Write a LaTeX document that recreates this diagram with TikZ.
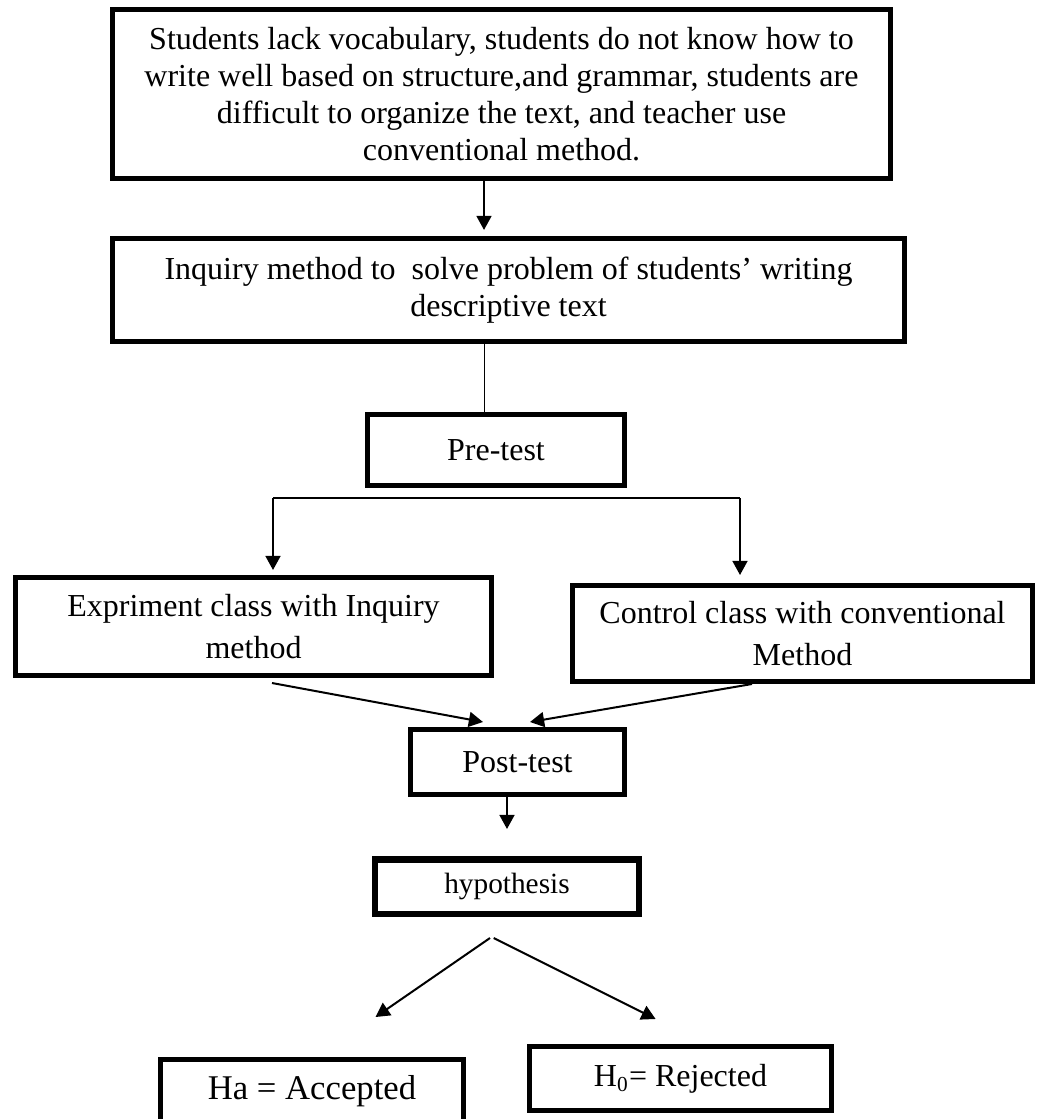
\documentclass[tikz,border=0pt]{standalone}
\usepackage{fontspec}
\setmainfont{Liberation Serif}
\usetikzlibrary{arrows.meta,calc}
\begin{document}
\begin{tikzpicture}[x=0.375pt,y=-0.375pt,
  boxnode/.style={draw,line width=1.875pt,inner sep=0pt,outer sep=0pt,align=center,font=\fontsize{12pt}{13.8pt}\selectfont},
  widebox/.style={boxnode,font=\fontsize{12pt}{15.5pt}\selectfont},
  arr/.style={line width=0.75pt,-{Triangle[length=5.3pt,width=5.6pt]}},
  thinline/.style={line width=0.5pt}]
\useasboundingbox (0,0) rectangle (1037,1119);
% boxes
\node[boxnode,minimum width=291.75pt,minimum height=63.375pt] (b1) at (501.5,94)
  {Students lack vocabulary, students do not know how to\\
   write well based on structure,and grammar, students are\\
   difficult to organize the text, and teacher use\\
   conventional method.};
\node[boxnode,minimum width=297pt,minimum height=38.625pt] (b2) at (508.5,290)
  {Inquiry method to\ \ solve problem of students’ writing\\ descriptive text};
\node[boxnode,minimum width=96.375pt,minimum height=26.625pt] (pre) at (496,450) {Pre-test};
\node[widebox,minimum width=178.5pt,minimum height=36.75pt] (exp) at (253.5,626.5)
  {Expriment class with Inquiry\\ method};
\node[widebox,minimum width=172.5pt,minimum height=36pt] (ctrl) at (802.5,633.5)
  {Control class with conventional\\ Method};
\node[boxnode,minimum width=80.25pt,minimum height=24.375pt] (post) at (517.5,762) {Post-test};
\node[boxnode,line width=2.4pt,minimum width=98.8pt,minimum height=20.4pt,font=\fontsize{11pt}{12.6pt}\selectfont] (hyp) at (507,886.5) {hypothesis};
\node[boxnode,minimum width=113.6pt,minimum height=23.6pt,font=\fontsize{13pt}{15pt}\selectfont] (ha) at (312,1091) {Ha = Accepted};
\node[boxnode,minimum width=113.25pt,minimum height=24pt] (hz) at (680.5,1078.5) {H\textsubscript{0}= Rejected};
% coordinates for connector ends
\coordinate (c1) at (484,0);
\coordinate (c2) at (484.5,0);
\coordinate (sL) at (273,498);
\coordinate (sR) at (740,498);
\coordinate (tL) at (273,570);
\coordinate (tR) at (740,575);
\coordinate (eS) at (272,683);
\coordinate (eT) at (483,722);
\coordinate (cS) at (752,684);
\coordinate (cT) at (530,722);
\coordinate (pT) at (507,829);
\coordinate (hL) at (490,938);
\coordinate (hR) at (493.7,938);
\coordinate (aT) at (375.5,1017);
\coordinate (zT) at (655.6,1019);
% connectors
\draw[arr,shorten >=3.2pt] (c1 |- b1.south) -- (c1 |- b2.north);
\draw[thinline] (c2 |- b2.south) -- (c2 |- pre.north);
\draw[thinline] (sL) -- (sR);
\draw[arr] (sL) -- (tL);
\draw[arr] (sR) -- (tR);
\draw[arr] (eS) -- (eT);
\draw[arr] (cS) -- (cT);
\draw[arr] (post.south -| pT) -- (pT);
\draw[arr] (hL) -- (aT);
\draw[arr] (hR) -- (zT);
\end{tikzpicture}
\end{document}
